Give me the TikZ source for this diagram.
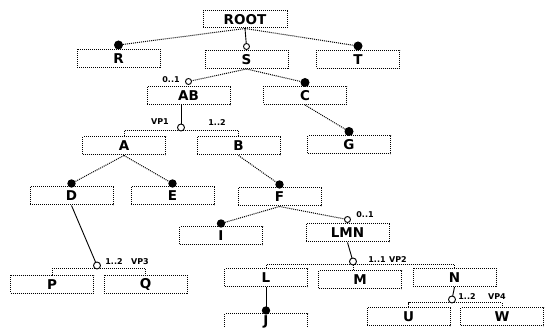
\documentclass[tikz,border=0pt]{standalone}
\usepackage{fontspec}
\setmainfont{DejaVu Sans}
\begin{document}
\begin{tikzpicture}[x=1pt,y=-1pt,
  feat/.style={draw,densely dotted,line width=1pt,minimum width=83pt,minimum height=18pt,inner sep=0pt,
    font=\bfseries\fontsize{13.5}{14}\selectfont},
  conn/.style={densely dotted,line width=1pt},
  sol/.style={line width=0.9pt},
  mand/.style={fill=black},
  opt/.style={draw,fill=white,line width=0.9pt},
  lbl/.style={inner sep=0pt,font=\bfseries\fontsize{8}{8}\selectfont}]
\useasboundingbox (0,0) rectangle (552,328);
% features
\node[feat,minimum width=84pt,minimum height=17pt] (ROOT) at (245,19.5) {ROOT};
\node[feat] (R) at (118.5,58.5) {R};
\node[feat] (S) at (246.5,59.5) {S};
\node[feat] (T) at (358,59.5) {T};
\node[feat] (AB) at (188.5,96) {AB};
\node[feat] (C) at (305,95.5) {C};
\node[feat] (A) at (124,146) {A};
\node[feat] (B) at (238.5,146) {B};
\node[feat] (G) at (349,145) {G};
\node[feat] (D) at (71.5,196) {D};
\node[feat] (E) at (172.5,196) {E};
\node[feat] (F) at (279.5,197) {F};
\node[feat] (I) at (221,236) {I};
\node[feat] (LMN) at (347.5,233) {LMN};
\node[feat] (P) at (52,284.5) {P};
\node[feat] (Q) at (145.5,284.5) {Q};
\node[feat] (L) at (266,278) {L};
\node[feat] (M) at (360,280) {M};
\node[feat] (N) at (454.5,277.5) {N};
\node[feat,minimum height=16pt] (J) at (266,322) {J};
\node[feat] (U) at (408.5,317) {U};
\node[feat] (W) at (502,317) {W};
% variation point coordinates
\coordinate (vp1) at (181,131);
\coordinate (vp2) at (353,265);
\coordinate (vp3) at (97,269);
\coordinate (vp4) at (452,303);
% ROOT children
\draw[conn] (ROOT.south) -- ([yshift=4pt]R.north);
\fill[mand] ([yshift=4pt]R.north) circle (4.5pt);
\draw[sol] (ROOT.south) -- ([yshift=3.5pt]S.north);
\draw[opt] ([yshift=3.5pt]S.north) circle (3pt);
\draw[conn] (ROOT.south) -- ([yshift=4pt]T.north);
\fill[mand] ([yshift=4pt]T.north) circle (4.5pt);
% S children
\draw[conn] (S.south) -- ([yshift=5pt]AB.north);
\draw[opt] ([yshift=5pt]AB.north) circle (3pt);
\node[lbl] (ABcard) at (171,80) {0..1};
\draw[conn] (S.south) -- ([yshift=3.5pt]C.north);
\fill[mand] ([yshift=3.5pt]C.north) circle (4.5pt);
% C - G
\draw[conn] (C.south) -- ([yshift=4pt]G.north);
\fill[mand] ([yshift=4pt]G.north) circle (4.5pt);
% VP1
\draw[conn] (A.north) -- (A.north |- vp1) -- (B.north |- vp1) -- (B.north);
\draw[sol] (AB.south -| vp1) -- ([yshift=3.5pt]vp1);
\draw[opt] ([yshift=3.5pt]vp1) circle (3.5pt);
\node[lbl] (vp1lab) at (160,122) {VP1};
\node[lbl] (vp1card) at (217,123) {1..2};
% A children
\draw[conn] (A.south) -- ([yshift=3pt]D.north);
\fill[mand] ([yshift=3pt]D.north) circle (4.2pt);
\draw[conn] (A.south) -- ([yshift=3pt]E.north);
\fill[mand] ([yshift=3pt]E.north) circle (4.2pt);
% B - F
\draw[conn] (B.south) -- ([yshift=3pt]F.north);
\fill[mand] ([yshift=3pt]F.north) circle (4.2pt);
% F children
\draw[conn] (F.south) -- ([yshift=3pt]I.north);
\fill[mand] ([yshift=3pt]I.north) circle (4.2pt);
\draw[conn] (F.south) -- ([yshift=4pt]LMN.north);
\draw[opt] ([yshift=4pt]LMN.north) circle (3pt);
\node[lbl] (LMNcard) at (365,215) {0..1};
% VP3
\draw[conn] (P.north) -- (P.north |- vp3) -- (Q.north |- vp3) -- (Q.north);
\draw[sol] (D.south) -- ([yshift=3.5pt]vp3);
\draw[opt] ([yshift=3.5pt]vp3) circle (3.5pt);
\node[lbl] (vp3card) at (114,262) {1..2};
\node[lbl] (vp3lab) at (140,262) {VP3};
% VP2
\draw[conn] (L.north) -- (L.north |- vp2) -- (N.north |- vp2) -- (N.north);
\draw[conn] (vp2) -- (vp2 |- M.north);
\draw[sol] (LMN.south) -- ([yshift=3.5pt]vp2);
\draw[opt] ([yshift=3.5pt]vp2) circle (3.5pt);
\node[lbl] (vp2card) at (377,260) {1..1};
\node[lbl] (vp2lab) at (398,260) {VP2};
% L - J
\draw[sol] (L.south) -- ([yshift=3pt]J.north);
\fill[mand] ([yshift=3pt]J.north) circle (4.2pt);
% VP4
\draw[conn] (U.north) -- (U.north |- vp4) -- (W.north |- vp4) -- (W.north);
\draw[sol] (N.south) -- ([yshift=3.5pt]vp4);
\draw[opt] ([yshift=3.5pt]vp4) circle (3.5pt);
\node[lbl] (vp4card) at (467,297) {1..2};
\node[lbl] (vp4lab) at (497,297) {VP4};
\end{tikzpicture}
\end{document}
